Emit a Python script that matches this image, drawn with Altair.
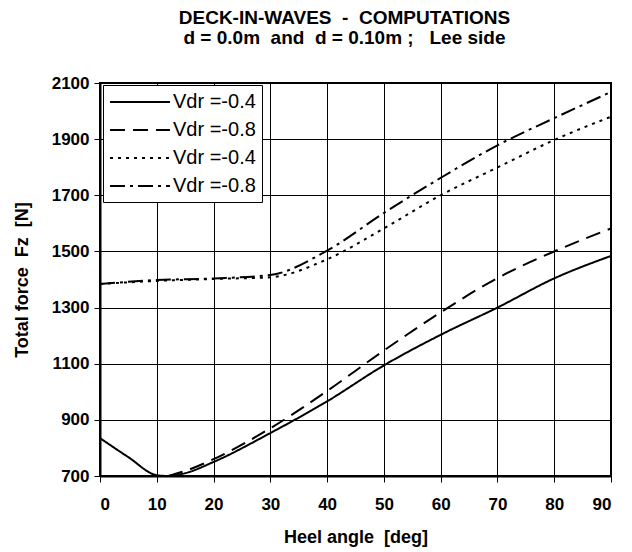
import altair as alt
import pandas as pd

# ---- data ----
angles_solid = [0, 5, 10, 12, 15, 20, 30, 40, 50, 60, 70, 80, 90]
force_solid = [835, 767, 703, 700, 710, 750, 853, 966, 1094, 1203, 1300, 1404, 1484]

angles_dashed = [12, 15, 20, 30, 40, 50, 60, 70, 80, 90]
force_dashed = [700, 718, 760, 870, 1003, 1147, 1283, 1405, 1500, 1582]

angles_d010 = [0, 10, 20, 30, 40, 50, 60, 70, 80, 90]
force_dotted = [1384, 1395, 1402, 1408, 1472, 1582, 1700, 1799, 1897, 1980]
force_dashdot = [1384, 1398, 1404, 1416, 1503, 1637, 1762, 1878, 1975, 2068]

series_keys = ["s1", "s2", "s3", "s4"]
series_labels = ["Vdr =-0.4", "Vdr =-0.8", "Vdr =-0.4", "Vdr =-0.8"]
series_dash = [[1, 0], [15, 8], [3, 5], [15, 5, 3, 5]]

x_ticks = list(range(0, 100, 10))
y_ticks = list(range(700, 2300, 200))

NB = "\u00a0"
title_lines = ["DECK-IN-WAVES" + NB + " -" + NB + " COMPUTATIONS",
               "d = 0.0m" + NB + " and" + NB + " d = 0.10m ;" + NB + NB + " Lee side"]
x_title = "Heel angle" + NB + " [deg]"
y_title = "Total force" + NB + " Fz" + NB + " [N]"

rows = []
for k, xs, ys in [("s1", angles_solid, force_solid),
                  ("s2", angles_dashed, force_dashed),
                  ("s3", angles_d010, force_dotted),
                  ("s4", angles_d010, force_dashdot)]:
    for a, f in zip(xs, ys):
        rows.append({"angle": a, "force": f, "series": k})
df = pd.DataFrame(rows)

label_expr = " : ".join(
    f"datum.value == '{k}' ? '{lab}'" for k, lab in zip(series_keys[:-1], series_labels[:-1])
) + f" : '{series_labels[-1]}'"

FONT = "Liberation Sans"

chart = alt.Chart(df).mark_line(
    color="black", strokeWidth=2, interpolate="monotone", clip=True
).encode(
    x=alt.X("angle:Q",
            scale=alt.Scale(domain=[0, 90], nice=False),
            axis=alt.Axis(values=x_ticks, title=x_title, format="d")),
    y=alt.Y("force:Q",
            scale=alt.Scale(domain=[700, 2100], nice=False),
            axis=alt.Axis(values=y_ticks, title=y_title, format="d")),
    strokeDash=alt.StrokeDash(
        "series:N",
        scale=alt.Scale(domain=series_keys, range=series_dash),
        legend=alt.Legend(
            title=None, orient="none", legendX=3, legendY=2,
            labelExpr=label_expr, symbolType="M-1,0H5", symbolSize=400,
            symbolStrokeWidth=2, symbolStrokeColor="black",
            labelFontSize=20, labelFont=FONT, labelColor="black",
            rowPadding=7, padding=6, strokeColor="black", fillColor="white",
            labelOffset=42,
        ),
    ),
    order="series:N",
).properties(
    width=511, height=393,
    title=alt.TitleParams(
        title_lines,
        font=FONT, fontSize=19, fontWeight="bold", color="black",
        anchor="middle", offset=26, dx=-11, lineHeight=20,
    ),
    autosize=alt.AutoSizeParams(type="none"),
    padding={"left": 92, "top": 75, "right": 13, "bottom": 76},
).configure_view(
    stroke="black", strokeWidth=2
).configure_axis(
    labelFont=FONT, labelFontSize=17, labelFontWeight="bold", labelColor="black",
    titleFont=FONT, titleFontSize=18, titleFontWeight="bold", titleColor="black",
    grid=True, gridColor="black", gridWidth=1, gridOpacity=1,
    tickColor="black", tickSize=6, tickWidth=1,
    domainColor="black", domainWidth=2,
).configure_axisX(
    labelPadding=14, titlePadding=16,
).configure_axisY(
    labelPadding=5, titlePadding=20,
)

chart.save("out.html", embed_options={"renderer": "svg", "actions": False})
